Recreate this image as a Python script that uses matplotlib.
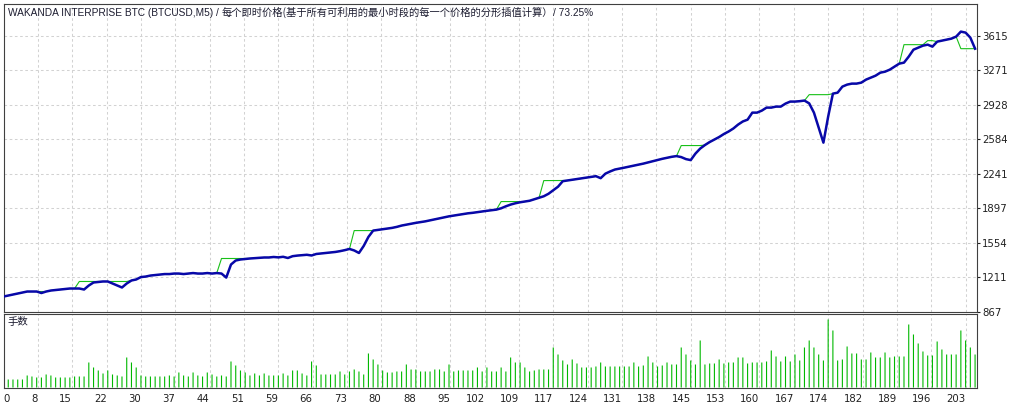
import numpy as np
import matplotlib.pyplot as plt

plt.rcParams['font.family'] = ['DejaVu Sans', 'Noto Sans CJK SC']

title_parts = ["WAKANDA INTERPRISE BTC (BTCUSD,M5) / ",
               "每个即时价格(基于所有可利用的最小时段的每一个价格的分形插值计算）",
               "/ 73.25%"]
lots_label = "手数"

# equity after each trade (index 0 = start)
equity = [
    1016, 1026, 1036, 1046, 1056, 1066, 1066, 1066, 1051, 1066,
    1076, 1081, 1086, 1091, 1096, 1096, 1096, 1086, 1126, 1156,
    1161, 1166, 1166, 1146, 1126, 1106, 1146, 1176, 1186, 1210,
    1215, 1225, 1230, 1235, 1240, 1240, 1245, 1245, 1240, 1245,
    1250, 1245, 1245, 1250, 1245, 1250, 1245, 1205, 1335, 1375,
    1385, 1390, 1395, 1398, 1400, 1405, 1405, 1410, 1406, 1412,
    1400, 1418, 1424, 1428, 1432, 1425, 1440, 1445, 1450, 1455,
    1460, 1468, 1478, 1490, 1475, 1450, 1520, 1610, 1673, 1680,
    1688, 1695, 1700, 1710, 1723, 1732, 1740, 1750, 1757, 1765,
    1775, 1785, 1795, 1805, 1815, 1822, 1830, 1838, 1845, 1850,
    1857, 1864, 1870, 1876, 1882, 1895, 1915, 1932, 1945, 1955,
    1962, 1970, 1985, 2000, 2015, 2040, 2075, 2110, 2165, 2172,
    2178, 2185, 2192, 2200, 2208, 2215, 2195, 2240, 2262, 2281,
    2290, 2300, 2310, 2320, 2330, 2340, 2352, 2363, 2375, 2388,
    2398, 2408, 2415, 2405, 2385, 2375, 2440, 2490, 2525, 2555,
    2580, 2605, 2635, 2660, 2690, 2729, 2760, 2778, 2848, 2848,
    2868, 2898, 2898, 2908, 2908, 2938, 2958, 2958, 2962, 2968,
    2940, 2848, 2700, 2549, 2808, 3037, 3047, 3107, 3127, 3137,
    3137, 3147, 3177, 3196, 3216, 3246, 3256, 3276, 3306, 3336,
    3346, 3406, 3475, 3495, 3515, 3525, 3505, 3555, 3565, 3575,
    3585, 3605, 3655, 3645, 3595, 3485,
]

# where the balance line sits apart from equity: (first trade, last trade, balance)
balance_flat = [
    (7, 8, 1066), (16, 26, 1166), (46, 51, 1395), (74, 77, 1673),
    (105, 109, 1962), (114, 118, 2171), (143, 147, 2520),
    (170, 174, 3027), (190, 194, 3525), (195, 196, 3565), (202, 205, 3485),
]

# lot size of trades 1..205
lots = [
    0.08, 0.08, 0.08, 0.08, 0.12, 0.11, 0.10, 0.10, 0.13, 0.12,
    0.10, 0.10, 0.10, 0.10, 0.11, 0.11, 0.11, 0.25, 0.20, 0.17,
    0.14, 0.17, 0.13, 0.12, 0.11, 0.30, 0.25, 0.20, 0.12, 0.11,
    0.11, 0.11, 0.11, 0.11, 0.12, 0.11, 0.15, 0.12, 0.11, 0.15,
    0.12, 0.11, 0.15, 0.13, 0.11, 0.12, 0.11, 0.26, 0.22, 0.17,
    0.15, 0.12, 0.14, 0.12, 0.14, 0.12, 0.12, 0.12, 0.14, 0.12,
    0.17, 0.17, 0.14, 0.12, 0.26, 0.22, 0.13, 0.13, 0.13, 0.13,
    0.16, 0.13, 0.16, 0.18, 0.16, 0.13, 0.34, 0.28, 0.23, 0.17,
    0.15, 0.15, 0.16, 0.16, 0.23, 0.18, 0.18, 0.16, 0.16, 0.16,
    0.18, 0.18, 0.16, 0.23, 0.16, 0.17, 0.17, 0.17, 0.17, 0.20,
    0.16, 0.20, 0.16, 0.16, 0.20, 0.16, 0.30, 0.25, 0.25, 0.20,
    0.16, 0.17, 0.18, 0.18, 0.18, 0.40, 0.33, 0.27, 0.23, 0.28,
    0.24, 0.20, 0.20, 0.20, 0.21, 0.25, 0.21, 0.21, 0.21, 0.21,
    0.21, 0.21, 0.25, 0.21, 0.22, 0.31, 0.25, 0.21, 0.22, 0.25,
    0.23, 0.23, 0.40, 0.33, 0.27, 0.23, 0.47, 0.23, 0.24, 0.24,
    0.28, 0.24, 0.25, 0.25, 0.30, 0.30, 0.24, 0.25, 0.25, 0.25,
    0.26, 0.37, 0.31, 0.26, 0.31, 0.26, 0.33, 0.27, 0.40, 0.47,
    0.40, 0.33, 0.27, 0.68, 0.57, 0.27, 0.28, 0.41, 0.34, 0.34,
    0.28, 0.28, 0.35, 0.30, 0.30, 0.35, 0.30, 0.31, 0.31, 0.31,
    0.63, 0.53, 0.44, 0.36, 0.32, 0.32, 0.46, 0.38, 0.33, 0.33,
    0.33, 0.57, 0.47, 0.40, 0.33,
]

y_ticks = [867, 1211, 1554, 1897, 2241, 2584, 2928, 3271, 3615]
x_tick_labels = ['0', '8', '15', '22', '30', '37', '44', '51', '59', '66',
                 '73', '80', '88', '95', '102', '109', '117', '124', '131',
                 '138', '145', '153', '160', '167', '174', '182', '189',
                 '196', '203']

balance = list(equity)
for a, b, v in balance_flat:
    for i in range(a, b + 1):
        balance[i] = v

W, H = 1024, 405
fig = plt.figure(figsize=(W / 100, H / 100), dpi=100)
fig.patch.set_facecolor('white')


def box(l, t, r, b):
    return [l / W, 1 - b / H, (r - l) / W, (b - t) / H]


ax = fig.add_axes(box(3.5, 3.5, 976.5, 311.5))
ax2 = fig.add_axes(box(3.5, 313.5, 976.5, 387.5))

n = len(equity)
xmax = 205.3
grid_step = 203 / 28
x_ticks = [k * grid_step for k in range(len(x_tick_labels))]

ax.plot(range(n), balance, color='#18c018', lw=0.8, zorder=3)
ax.plot(range(n), equity, color='#0808a8', lw=1.8, zorder=4,
        solid_joinstyle='round')
ax.set_xlim(0, xmax)
ax.set_ylim(867, 3935)

ax2.vlines(range(1, len(lots) + 1), 0, lots, colors='#00b800', lw=0.8,
           snap=False, zorder=3)
ax2.set_xlim(0, xmax)
ax2.set_ylim(0, 0.74)

grid_kw = dict(color='#d2d2d2', lw=0.75, ls=(0, (2.5, 2.5)))
for a in (ax, ax2):
    a.set_facecolor('white')
    a.set_xticks(x_ticks)
    a.grid(True, axis='x', **grid_kw)
    for s in a.spines.values():
        s.set_color('#404040')
        s.set_linewidth(0.8)
ax.grid(True, axis='y', **grid_kw)

ax.set_xticklabels([])
ax.tick_params(axis='x', length=0)
ax.yaxis.tick_right()
ax.set_yticks(y_ticks)
ax.set_yticklabels([str(v) for v in y_ticks])
ax.tick_params(axis='y', direction='out', length=2.5, pad=1.5,
               labelsize=7.3, colors='#202020', width=0.8)

ax2.set_yticks([])
ax2.set_xticklabels(x_tick_labels)
ax2.tick_params(axis='x', length=0, pad=5, labelsize=7.3, colors='#202020')
for i, lab in enumerate(ax2.get_xticklabels()):
    lab.set_ha('left' if i == 0 else 'right')

# title in three pieces, laid out one after the other on one baseline
fig.canvas.draw()
renderer = fig.canvas.get_renderer()
ax_bb = ax.get_window_extent(renderer)
x_px = 8.0
base_y = 1 - (15.7 - 3.5) / 308
fonts = [(['Liberation Sans'], 7.3), (['Noto Sans CJK SC'], 7.4),
         (['Liberation Sans'], 7.3)]
for part, (fam, size) in zip(title_parts, fonts):
    t = ax.text((x_px - 3.5) / ax_bb.width, base_y, part,
                transform=ax.transAxes, fontsize=size, family=fam,
                color='#1c1c30', va='baseline', ha='left')
    x_px += t.get_window_extent(renderer).width

ax2.text((8 - 3.5) / 973, 0.95, lots_label, transform=ax2.transAxes,
         fontsize=7.5, family=['Noto Sans CJK SC'], color='#1c1c30',
         va='top', ha='left')

fig.savefig('out.png', dpi=100, facecolor='white')
